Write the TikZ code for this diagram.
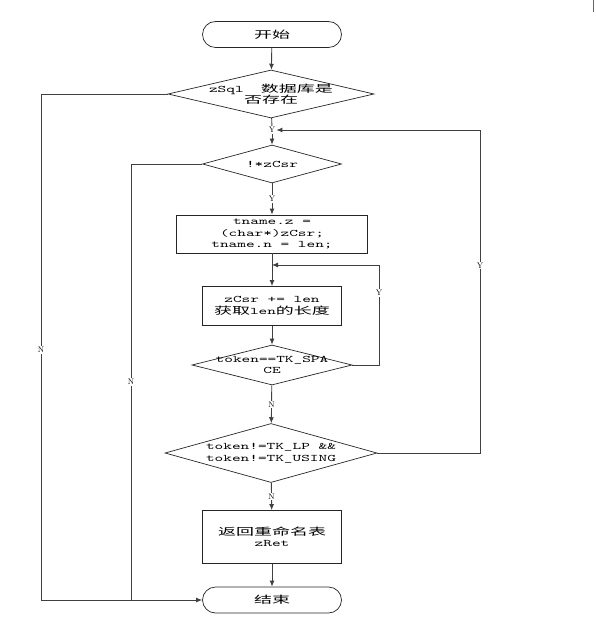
\documentclass[tikz,border=0pt]{standalone}
\usepackage{fontspec}
\setmonofont{lmmono10-regular.otf}[FakeStretch=1.65]
\newfontfamily\cjk{Noto Sans CJK SC}[FakeStretch=1.8]
\newcommand\zh[1]{{\cjk #1}}
\newcommand\txtfont{\ttfamily\fontsize{10}{11.5}\selectfont}
\usetikzlibrary{arrows.meta,shapes.geometric,shapes.misc}

\begin{document}
\begin{tikzpicture}[x=1pt,y=-1pt,>={Latex[length=6pt,width=5pt]},
	line/.style={draw=black!75,line width=0.9pt},
	term/.style={rounded rectangle,draw=black!85,line width=0.7pt,minimum width=139pt,minimum height=26pt,inner sep=0pt,font=\txtfont},
	proc/.style={rectangle,draw=black!85,line width=0.7pt,inner sep=0pt,font=\txtfont,align=center},
	dec/.style={diamond,draw=black!85,line width=0.7pt,inner sep=0pt},
	dtxt/.style={font=\txtfont,align=center,inner sep=0pt},
	lbl/.style={fill=white,inner sep=1pt,font=\rmfamily\fontsize{8}{9}\selectfont}]
		\useasboundingbox (0,0) rectangle (595,628);
		% nodes
		\node[term] (start) at (272,34.5) {\zh{开始}};
		\node[dec,minimum width=206pt,minimum height=48pt,label={[dtxt]center:{zSql~~\zh{数据库是}\\\zh{否存在}}}] (d1) at (271,94) {};
		\node[lbl] (y1) at (272,130) {Y};
		\node[dec,minimum width=139pt,minimum height=38pt,label={[dtxt]center:{!*zCsr}}] (d2) at (272,164) {};
		\node[proc,minimum width=191pt,minimum height=38pt] (box1) at (272,234) {tname.z =\\(char*)zCsr;\\tname.n = len;};
		\node[proc,minimum width=139pt,minimum height=39pt] (box2) at (272,306) {zCsr += len\\\zh{获取}len\zh{的长度}};
		\node[dec,minimum width=160pt,minimum height=40pt,label={[dtxt]center:{token==TK\_SPA\\CE}}] (d3) at (272,365) {};
		\node[dec,minimum width=212pt,minimum height=59pt,label={[dtxt]center:{token!=TK\_LP \&\&\\token!=TK\_USING}}] (d4) at (271,453) {};
		\node[proc,minimum width=139pt,minimum height=53pt] (box3) at (272,537) {\zh{返回重命名表}\\zRet};
		\node[term] (end) at (272,600) {\zh{结束}};
		% main flow
		\draw[line,->] (start) -- (d1);
		\draw[line] (d1) -- (y1);
		\draw[line,->] (y1) -- (d2);
		\draw[line,->] (d2) -- node[lbl]{Y} (box1);
		\draw[line,->] (box1) -- (box2);
		\draw[line,->] (box2) -- (d3);
		\draw[line,->] (d3) -- node[lbl]{N} (d4);
		\draw[line,->] (d4) -- node[lbl]{N} (box3);
		\draw[line,->] (box3) -- (end);
		% loops back
		\coordinate (j1) at (272,265);
		\coordinate (rt1) at (379,365);
		\draw[line,->] (d3.east) -- (rt1) |- node[lbl,pos=0.36]{Y} (j1);
		\coordinate (rt2) at (480,453);
		\draw[line,->] (d4.east) -- (rt2) |- node[lbl,pos=0.29]{Y} (y1.east);
		% exits to the end
		\coordinate (lf1) at (41,94);
		\draw[line,->] (d1.west) -- (lf1) |- node[lbl,pos=0.253]{N} (end.west);
		\coordinate (lf2) at (131,164);
		\draw[line] (d2.west) -- (lf2) -- node[lbl]{N} (lf2 |- end.west);
		\draw[black!60,line width=0.6pt] (593,0) -- (593,12);
	\end{tikzpicture}
\end{document}
